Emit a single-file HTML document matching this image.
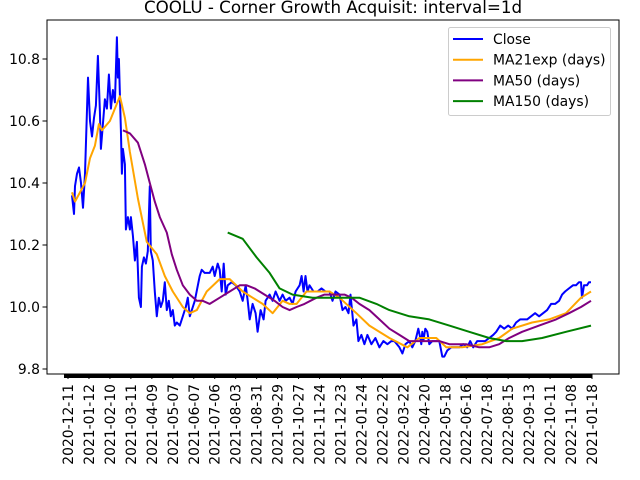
<!DOCTYPE html>
<html><head><meta charset="utf-8"><style>
body{margin:0;background:#fff}
svg{display:block;font-family:"DejaVu Sans","Liberation Sans",sans-serif}
</style></head><body>
<svg id="chart" width="640" height="480" viewBox="0 0 640 480" xmlns="http://www.w3.org/2000/svg">
<rect width="640" height="480" fill="#fff"/>
<text x="333" y="13" font-size="16.7" text-anchor="middle">COOLU - Corner Growth Acquisit: interval=1d</text>
<g id="plot"></g>
</svg>
<script>
const tickLabels=["2020-12-11","2021-01-12","2021-02-10","2021-03-11","2021-04-09","2021-05-07","2021-06-07","2021-07-06","2021-08-03","2021-08-31","2021-09-29","2021-10-27","2021-11-24","2021-12-23","2022-01-24","2022-02-22","2022-03-22","2022-04-20","2022-05-18","2022-06-16","2022-07-18","2022-08-15","2022-09-13","2022-10-11","2022-11-08","2021-01-18"];
const yTicks=[9.8,10.0,10.2,10.4,10.6,10.8];
const closeDay=[4,6,7,9,11,13,15,17,20,22,24,26,28,30,32,33,35,37,39,41,43,45,47,49,50,51,53,54,55,57,58,60,62,63,65,67,69,71,73,74,76,78,80,82,83,85,87,89,91,93,95,97,99,101,103,105,107,109,112,115,118,120,122,127,132,134,137,142,145,147,150,152,154,156,158,160,164,168,172,175,178,180,182,185,188,190,193,196,198,202,205,208,212,215,218,222,225,228,232,234,236,238,240,242,246,250,254,258,262,265,268,272,275,278,281,283,286,289,291,294,297,300,304,308,312,316,320,324,327,332,335,338,342,345,348,351,353,354,355,356,358,360,362,365,368,372,375,377,380,384,388,392,396,400,403,406,410,414,418,422,426,429,433,437,441,445,449,453,457,460,464,468,472,476,480,484,488,492,495,498,502,506,509,512,514,515,517,520,522,524];
const closeVal=[10.36,10.30,10.39,10.43,10.45,10.40,10.32,10.43,10.74,10.60,10.55,10.61,10.65,10.81,10.63,10.51,10.59,10.67,10.64,10.75,10.64,10.70,10.66,10.87,10.74,10.80,10.57,10.43,10.51,10.46,10.25,10.29,10.25,10.29,10.23,10.15,10.21,10.03,10.00,10.13,10.16,10.14,10.18,10.39,10.18,10.15,10.05,9.97,10.03,10.00,10.02,10.08,9.99,10.02,9.97,9.99,9.94,9.95,9.94,9.97,10.00,10.03,9.97,10.02,10.10,10.12,10.11,10.11,10.13,10.10,10.14,10.12,10.05,10.14,10.04,10.07,10.08,10.07,10.05,10.02,10.07,10.02,9.96,10.01,9.98,9.92,9.99,9.96,10.02,10.04,10.02,10.05,10.02,10.04,10.02,10.03,10.01,10.05,10.07,10.10,10.05,10.10,10.05,10.07,10.05,10.05,10.06,10.05,10.05,10.02,10.05,10.04,9.99,10.00,9.98,10.04,9.94,9.96,9.89,9.91,9.88,9.91,9.88,9.90,9.87,9.89,9.88,9.89,9.89,9.87,9.85,9.88,9.89,9.87,9.89,9.93,9.90,9.88,9.92,9.89,9.93,9.92,9.88,9.89,9.89,9.89,9.84,9.84,9.86,9.87,9.87,9.87,9.88,9.87,9.89,9.87,9.89,9.89,9.89,9.90,9.91,9.92,9.94,9.93,9.94,9.93,9.95,9.96,9.96,9.96,9.97,9.98,9.97,9.98,9.99,10.01,10.01,10.02,10.04,10.05,10.06,10.07,10.07,10.08,10.08,10.03,10.07,10.07,10.08,10.08];
const ma21Day=[4,7,17,22,27,31,34,42,47,52,57,62,70,79,84,89,97,105,115,122,129,139,152,162,175,185,195,205,215,222,229,239,249,262,272,289,302,322,340,352,369,379,395,415,432,445,465,482,499,514,524];
const ma21Val=[10.37,10.34,10.40,10.48,10.52,10.59,10.57,10.60,10.64,10.68,10.61,10.50,10.35,10.21,10.19,10.17,10.10,10.05,10.00,9.98,9.99,10.05,10.09,10.09,10.05,10.03,10.01,9.98,10.02,10.01,10.01,10.05,10.05,10.05,10.03,9.98,9.94,9.90,9.87,9.90,9.90,9.87,9.87,9.88,9.90,9.93,9.95,9.96,9.98,10.03,10.05];
const ma50Day=[55,62,70,77,82,87,92,99,104,109,115,122,129,135,142,152,162,172,179,187,197,207,215,222,229,237,249,257,267,277,284,292,302,312,322,332,342,352,362,372,382,392,399,412,422,432,442,455,472,489,502,514,524];
const ma50Val=[10.57,10.56,10.53,10.46,10.40,10.34,10.29,10.24,10.17,10.12,10.07,10.04,10.02,10.02,10.01,10.03,10.05,10.07,10.07,10.06,10.04,10.02,10.00,9.99,10.00,10.01,10.03,10.04,10.04,10.04,10.03,10.01,9.99,9.96,9.93,9.91,9.89,9.89,9.89,9.89,9.88,9.88,9.88,9.87,9.87,9.88,9.90,9.92,9.94,9.96,9.98,10.00,10.02];
const ma150Day=[160,175,189,202,212,225,245,282,292,309,322,342,362,382,402,422,439,455,475,499,524];
const ma150Val=[10.24,10.22,10.16,10.11,10.06,10.04,10.03,10.03,10.03,10.01,9.99,9.97,9.96,9.94,9.92,9.90,9.89,9.89,9.90,9.92,9.94];

const NS="http://www.w3.org/2000/svg";
const X0=47,X1=619,Y0=20,Y1=374;
function xScale(i){return 68+i*524/525;}
function yScale(v){return 59+(10.8-v)*310;}
const g=document.getElementById('plot');
function mk(t,a){const e=document.createElementNS(NS,t);for(const k in a)e.setAttribute(k,a[k]);g.appendChild(e);return e;}

function series(days,vals,color,name){
  const d=days.map((t,i)=>(i?'L':'M')+xScale(t).toFixed(1)+','+yScale(vals[i]).toFixed(1)).join('');
  const p=mk('path',{d:d,fill:'none',stroke:color,'stroke-width':2,'stroke-linejoin':'round'});
  
  
}
series(closeDay,closeVal,'#0000ff','close-line');
series(ma21Day,ma21Val,'#ffa500','ma21exp-line');
series(ma50Day,ma50Val,'#800080','ma50-line');
series(ma150Day,ma150Val,'#008000','ma150-line');

const frame=mk('rect',{x:X0,y:Y0,width:X1-X0,height:Y1-Y0,fill:'none',stroke:'#000','stroke-width':1});



yTicks.forEach(v=>{
  const y=yScale(v);
  const t=mk('line',{x1:X0-4.5,x2:X0,y1:y,y2:y,stroke:'#000','stroke-width':1});
  
  
  const l=mk('text',{x:X0-7,y:y+5,'font-size':13.9,'text-anchor':'end'});
  l.textContent=v.toFixed(1);
  
  
});
const band=mk('rect',{x:64,y:Y1,width:528,height:4,fill:'#000'});


tickLabels.forEach((s,i)=>{
  const x=xScale(i*21);
  const t=mk('line',{x1:x,x2:x,y1:Y1,y2:Y1+5,stroke:'#000','stroke-width':1});
  
  
  const l=mk('text',{x:0,y:0,'font-size':13.9,'text-anchor':'end',transform:`translate(${x+5},${Y1+10}) rotate(-90)`});
  l.textContent=s;
  
  
});

const lg=mk('rect',{x:448.5,y:27.5,width:162,height:88,rx:2,fill:'#fff',stroke:'#ccc','stroke-width':1});


const legNames=["Close","MA21exp (days)","MA50 (days)","MA150 (days)"];
const legColors=['#0000ff','#ffa500','#800080','#008000'];
legNames.forEach((n,i)=>{
  const y=39+i*20.7;
  const ln=mk('line',{x1:453,x2:483,y1:y,y2:y,stroke:legColors[i],'stroke-width':2});
  
  
  const t=mk('text',{x:493,y:y+5,'font-size':13.9});
  t.textContent=n;
  
  
});
</script>
</body></html>
